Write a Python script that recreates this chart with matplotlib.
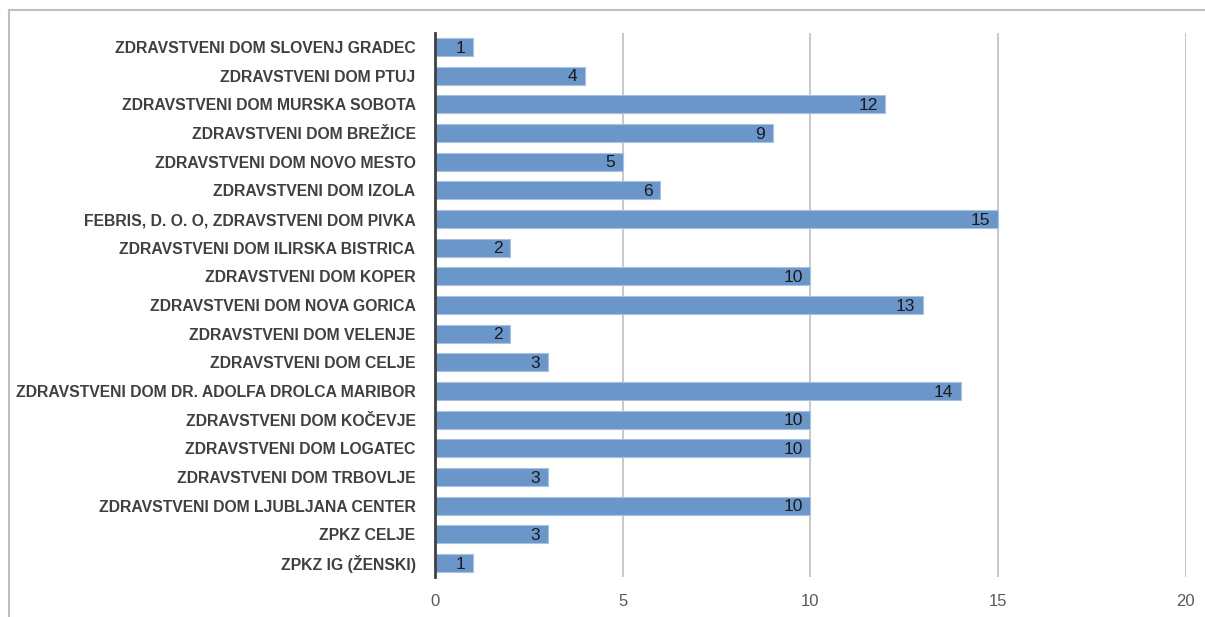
import numpy as np
import matplotlib.pyplot as plt
from matplotlib.lines import Line2D

# podatki, od zgoraj navzdol
ustanove = [
    'ZDRAVSTVENI DOM SLOVENJ GRADEC',
    'ZDRAVSTVENI DOM PTUJ',
    'ZDRAVSTVENI DOM MURSKA SOBOTA',
    'ZDRAVSTVENI DOM BREŽICE',
    'ZDRAVSTVENI DOM NOVO MESTO',
    'ZDRAVSTVENI DOM IZOLA',
    'FEBRIS, D. O. O, ZDRAVSTVENI DOM PIVKA',
    'ZDRAVSTVENI DOM ILIRSKA BISTRICA',
    'ZDRAVSTVENI DOM KOPER',
    'ZDRAVSTVENI DOM NOVA GORICA',
    'ZDRAVSTVENI DOM VELENJE',
    'ZDRAVSTVENI DOM CELJE',
    'ZDRAVSTVENI DOM DR. ADOLFA DROLCA MARIBOR',
    'ZDRAVSTVENI DOM KOČEVJE',
    'ZDRAVSTVENI DOM LOGATEC',
    'ZDRAVSTVENI DOM TRBOVLJE',
    'ZDRAVSTVENI DOM LJUBLJANA CENTER',
    'ZPKZ CELJE',
    'ZPKZ IG (ŽENSKI)',
]
vrednosti = [1, 4, 12, 9, 5, 6, 15, 2, 10, 13, 2, 3, 14, 10, 10, 3, 10, 3, 1]
xticks = [0, 5, 10, 15, 20]

plt.rcParams['font.family'] = ['Liberation Sans', 'DejaVu Sans']

fig = plt.figure(figsize=(12.05, 6.17), dpi=100)
ax = fig.add_axes([0.361, 0.0643, 0.623, 0.8827])

y = np.arange(len(ustanove))
bars = ax.barh(y, vrednosti, height=0.63, color='#6a96c9',
               edgecolor='#a9c2e3', linewidth=0.8, zorder=2)
for b, v in zip(bars, vrednosti):
    ax.text(b.get_width() - 0.2, b.get_y() + b.get_height() / 2 + 0.04, str(v),
            ha='right', va='center', fontsize=12.5, color='#1a1a1a', zorder=3)

ax.set_ylim(len(ustanove) - 0.5, -0.5)
ax.set_xlim(0, 20)
ax.set_xticks(xticks)
ax.set_yticks(y)
ax.set_yticklabels(ustanove, fontsize=11.3, fontweight='bold', color='#404040')
ax.tick_params(axis='x', length=0, pad=12, labelsize=12, labelcolor='#595959')
ax.tick_params(axis='y', length=0, pad=14)

ax.grid(axis='x', color='#bfbfbf', linewidth=1.2, zorder=0)
for s in ['top', 'right', 'bottom']:
    ax.spines[s].set_visible(False)
ax.spines['left'].set_color('#404040')
ax.spines['left'].set_linewidth(2)
ax.spines['left'].set_zorder(4)

# okvir grafikona (zgoraj in levo)
fig.add_artist(Line2D([0.0075, 1.0], [0.984, 0.984], color='#bfbfbf', linewidth=1.5))
fig.add_artist(Line2D([0.0075, 0.0075], [0.0, 0.984], color='#bfbfbf', linewidth=1.5))

fig.savefig('out.png', dpi=100)
